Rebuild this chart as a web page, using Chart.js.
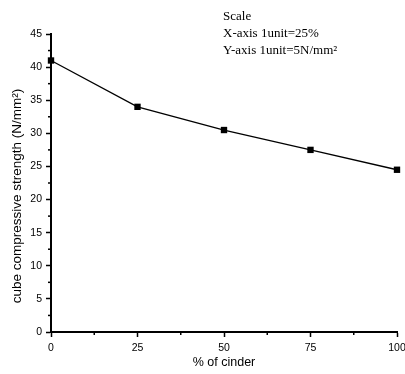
<!DOCTYPE html>
<html><head><meta charset="utf-8">
<script src="https://cdn.jsdelivr.net/npm/chart.js@4/dist/chart.umd.min.js"></script>
<style>html,body{margin:0;padding:0;background:#fff}#wrap{width:405px;height:374px}</style>
</head><body><div id="wrap"><canvas id="c" width="405" height="374"></canvas></div>
<script>
const cinderPercent = [0, 25, 50, 75, 100];
const strength = [41, 34, 30.5, 27.5, 24.5];
const xTicks = [0, 25, 50, 75, 100];
const yTicks = [0, 5, 10, 15, 20, 25, 30, 35, 40, 45];
const scaleNote = ["Scale", "X-axis 1unit=25%", "Y-axis 1unit=5N/mm\u00B2"];
const yTitle = "cube compressive strength (N/mm\u00B2)";

const extras = {
  id: 'extras',
  afterDraw(chart) {
    const ctx = chart.ctx, x = chart.scales.x, y = chart.scales.y;
    ctx.save();
    ctx.strokeStyle = '#000'; ctx.lineWidth = 1.5;
    for (let i = 0; i < xTicks.length - 1; i++) {
      const px = x.getPixelForValue((xTicks[i] + xTicks[i+1]) / 2);
      ctx.beginPath(); ctx.moveTo(px, y.bottom); ctx.lineTo(px, y.bottom + 3); ctx.stroke();
    }
    for (let i = 0; i < yTicks.length - 1; i++) {
      const py = y.getPixelForValue((yTicks[i] + yTicks[i+1]) / 2);
      ctx.beginPath(); ctx.moveTo(x.left, py); ctx.lineTo(x.left - 3, py); ctx.stroke();
    }
    ctx.fillStyle = '#000';
    ctx.font = '13px "Liberation Serif", serif';
    ctx.textBaseline = 'alphabetic';
    ctx.fillText(scaleNote[0], 223, 20);
    ctx.fillText(scaleNote[1], 223, 37);
    ctx.fillText(scaleNote[2], 223, 54);
    ctx.save();
    ctx.translate(17, 196);
    ctx.rotate(-Math.PI / 2);
    ctx.font = '13.5px "Liberation Sans", Arial, sans-serif';
    ctx.textAlign = 'center';
    ctx.textBaseline = 'middle';
    ctx.fillText(yTitle, 0, 0);
    ctx.restore();
    ctx.restore();
  }
};

new Chart(document.getElementById('c'), {
  type: 'line',
  data: {
    datasets: [{
      data: cinderPercent.map((v, i) => ({x: v, y: strength[i]})),
      borderColor: '#000', borderWidth: 1.3, backgroundColor: '#000',
      pointStyle: 'rect', pointRadius: 4.5, pointBackgroundColor: '#000', pointBorderWidth: 0,
      tension: 0, clip: false
    }]
  },
  options: {
    responsive: false, animation: false,
    layout: { padding: { top: 34, right: 8, left: 0, bottom: 0 } },
    plugins: { legend: { display: false }, tooltip: { enabled: false } },
    scales: {
      x: {
        type: 'linear', min: 0, max: 100,
        afterBuildTicks: s => { s.ticks = xTicks.map(v => ({value: v})); },
        afterFit: s => { s.height = 42; s.paddingLeft = 0; s.paddingRight = 0; },
        border: { color: '#000', width: 2 },
        grid: { drawOnChartArea: false, drawTicks: true, tickLength: 5, tickWidth: 1.5, tickColor: '#000' },
        ticks: { color: '#000', font: { family: '"Liberation Sans", Arial', size: 10.5 }, padding: 5, maxRotation: 0 },
        title: { display: true, text: '% of cinder', color: '#000', font: { family: '"Liberation Sans", Arial', size: 12.5 }, padding: { top: 7 } }
      },
      y: {
        type: 'linear', min: 0, max: 45,
        afterBuildTicks: s => { s.ticks = yTicks.map(v => ({value: v})); },
        afterFit: s => { s.width = 51; s.paddingTop = 0; s.paddingBottom = 0; },
        border: { color: '#000', width: 2 },
        grid: { drawOnChartArea: false, drawTicks: true, tickLength: 5, tickWidth: 1.5, tickColor: '#000' },
        ticks: { color: '#000', font: { family: '"Liberation Sans", Arial', size: 10.5 }, padding: 4 },
        title: { display: false }
      }
    }
  },
  plugins: [extras]
});
</script></body></html>
